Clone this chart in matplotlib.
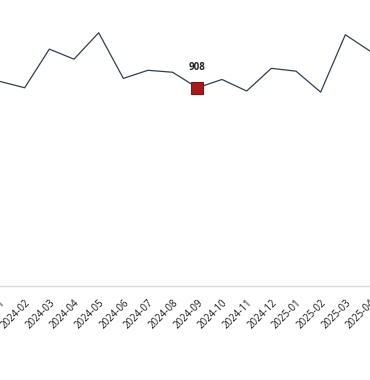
import matplotlib
matplotlib.use("Agg")
import matplotlib.pyplot as plt

# monthly values
months = ["2024-01", "2024-02", "2024-03", "2024-04", "2024-05", "2024-06",
          "2024-07", "2024-08", "2024-09", "2024-10", "2024-11", "2024-12",
          "2025-01", "2025-02", "2025-03", "2025-04"]
values = [937, 908, 1085, 1039, 1160, 951, 988, 979, 908, 946, 893, 997,
          984, 888, 1151, 1076]
highlight = "2024-09"


def main():
    plt.rcParams["font.family"] = ["Open Sans", "DejaVu Sans"]
    fig = plt.figure(figsize=(3.7, 3.8), dpi=100)
    ax = fig.add_axes([0, 0.2474, 1, 0.7526])

    x = list(range(len(months)))
    ax.plot(x, values, color="#2f4050", lw=0.9)

    i = months.index(highlight)
    ax.plot(x[i], values[i], marker="s", ms=8, color="#a8191c",
            mec="#7d1416", mew=0.8)
    ax.annotate(str(values[i]), (x[i], values[i]), xytext=(0, 10.5),
                textcoords="offset points", ha="center", va="bottom",
                fontsize=7, fontweight="bold", color="#222222")

    ax.set_xlim(0.06, 14.98)
    ax.set_ylim(0, 1310)
    ax.set_xticks(x)
    ax.set_xticklabels(months, rotation=45, ha="right", rotation_mode="anchor",
                       fontsize=7, color="#1a1a1a")
    ax.tick_params(axis="x", length=0, pad=8)
    ax.set_yticks([])
    for side in ["top", "left", "right"]:
        ax.spines[side].set_visible(False)
    ax.spines["bottom"].set_color("#d9d9d9")
    ax.spines["bottom"].set_linewidth(1)

    fig.savefig("out.png", dpi=100)


if __name__ == "__main__":
    main()
